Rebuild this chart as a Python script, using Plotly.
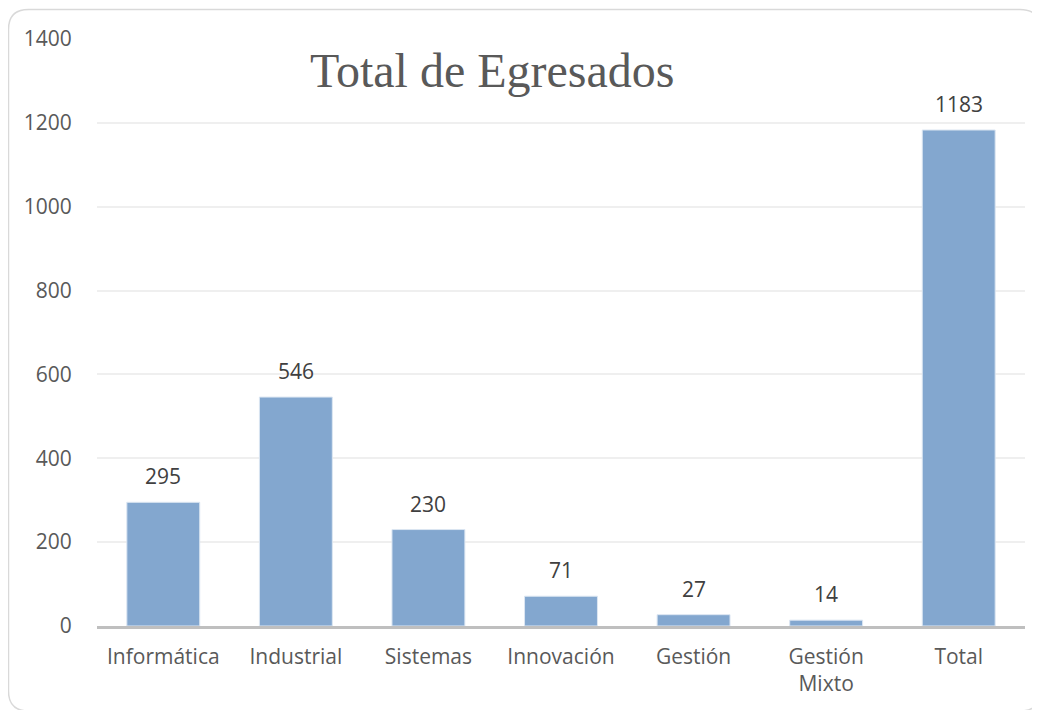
import plotly.graph_objects as go

categories = ["Informática", "Industrial", "Sistemas", "Innovación", "Gestión", "Gestión<br>Mixto", "Total"]
values = [295, 546, 230, 71, 27, 14, 1183]
y_ticks = [0, 200, 400, 600, 800, 1000, 1200, 1400]
title_text = "Total de Egresados"

# page body has an 8px margin; figure is sized so it ends at the window edge
OFF = 8
W, H = 1040 - OFF, 710 - OFF
ml, mr, mt, mb = 97 - OFF, 15, 39 - OFF, 84
pw, ph = W - ml - mr, H - mt - mb

def px_x(p):
    return (p - OFF - ml) / pw

def px_y(p):
    return (H - mb - (p - OFF)) / ph

fig = go.Figure()
fig.add_trace(go.Bar(
    x=categories, y=values,
    marker=dict(color="#83a7cf", line=dict(color="#dce6f2", width=1)),
    hoverinfo="x+y",
))

for c, v in zip(categories, values):
    fig.add_annotation(x=c, y=v, text=str(v), showarrow=False, yshift=26,
                       font=dict(family="Open Sans", size=21, color="#404040"))

fig.add_annotation(xref="paper", yref="paper", x=px_x(492), y=px_y(70),
                   text=title_text, showarrow=False, xanchor="center", yanchor="middle",
                   font=dict(family="Liberation Serif", size=48, color="#595959"))

# rounded chart border (right and bottom edges fall just outside the window)
x0, x1 = px_x(8.5), px_x(1040)
y0, y1 = px_y(711), px_y(9.5)
rx, ry = 20 / pw, 20 / ph
path = (f"M {x0+rx},{y1} L {x1-rx},{y1} Q {x1},{y1} {x1},{y1-ry} "
        f"L {x1},{y0+ry} Q {x1},{y0} {x1-rx},{y0} L {x0+rx},{y0} "
        f"Q {x0},{y0} {x0},{y0+ry} L {x0},{y1-ry} Q {x0},{y1} {x0+rx},{y1} Z")
fig.add_shape(type="path", path=path, xref="paper", yref="paper",
              line=dict(color="#d9d9d9", width=1.5), layer="below")

fig.update_layout(
    width=W, height=H,
    margin=dict(l=ml, r=mr, t=mt, b=mb),
    paper_bgcolor="white", plot_bgcolor="white",
    bargap=0.45, showlegend=False,
    font=dict(family="Open Sans", size=21, color="#595959"),
    xaxis=dict(showline=True, linecolor="#bfbfbf", linewidth=2.5, showgrid=False,
               ticks="outside", ticklen=10, tickcolor="rgba(0,0,0,0)",
               tickfont=dict(size=21, color="#595959"), fixedrange=True),
    yaxis=dict(range=[0, 1400], tickvals=y_ticks, showgrid=True, gridcolor="#efefef",
               gridwidth=1.5, zeroline=False, showline=False,
               ticks="outside", ticklen=20, tickcolor="rgba(0,0,0,0)",
               tickfont=dict(size=21, color="#595959"), fixedrange=True),
)

fig.write_html("out.html")
